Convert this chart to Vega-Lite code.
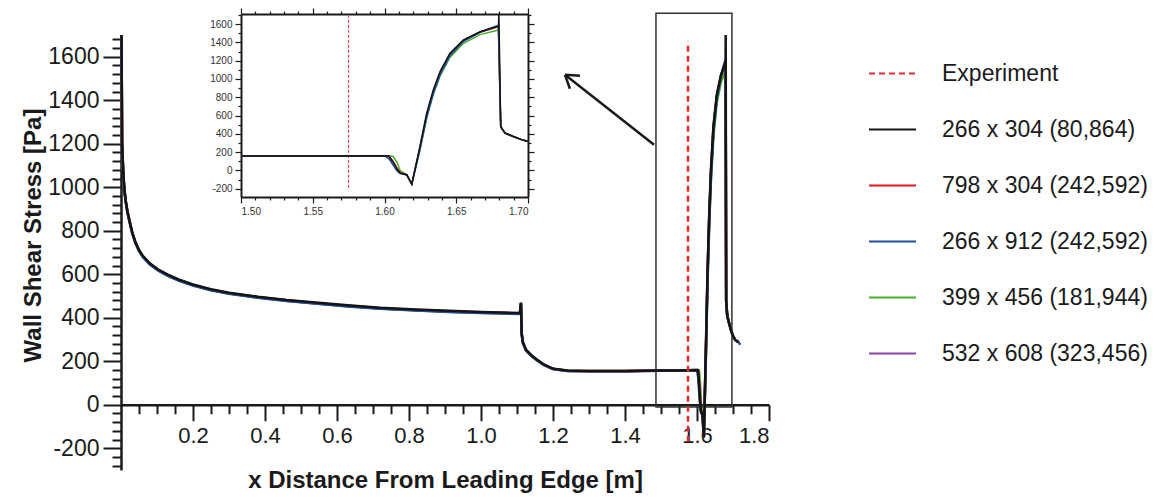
{
  "$schema": "https://vega.github.io/schema/vega-lite/v6.json",
  "autosize": "none",
  "padding": {"left": 121, "top": 35, "right": 387, "bottom": 27},
  "width": 648,
  "height": 435,
  "background": "white",
  "config": {
    "view": {"stroke": null},
    "font": "Liberation Sans",
    "axis": {"grid": false, "labelFont": "Liberation Sans", "titleFont": "Liberation Sans", "labelColor": "#1a1a1a", "tickColor": "#1a1a1a", "domainColor": "#1a1a1a", "titleColor": "#1a1a1a"}
  },
  "datasets": {
    "one": [{"id": 1}],
    "ws": [
      {"x":0.0015,"k":1700,"r":1700,"b":1700,"g":1700,"p":1700},
      {"x":0.003,"k":1210,"r":1205,"b":1198,"g":1203,"p":1200},
      {"x":0.006,"k":1080,"r":1076,"b":1070,"g":1074,"p":1072},
      {"x":0.009,"k":1000,"r":997,"b":992,"g":995,"p":993},
      {"x":0.013,"k":940,"r":937,"b":932,"g":935,"p":934},
      {"x":0.018,"k":890,"r":887,"b":882,"g":885,"p":884},
      {"x":0.024,"k":845,"r":842,"b":838,"g":840,"p":839},
      {"x":0.031,"k":795,"r":792,"b":789,"g":791,"p":790},
      {"x":0.04,"k":748,"r":746,"b":743,"g":745,"p":744},
      {"x":0.05,"k":712,"r":710,"b":707,"g":709,"p":708},
      {"x":0.06,"k":686,"r":684,"b":681,"g":683,"p":682},
      {"x":0.08,"k":650,"r":648,"b":645,"g":647,"p":646},
      {"x":0.105,"k":620,"r":618,"b":615,"g":617,"p":616},
      {"x":0.13,"k":598,"r":596,"b":593,"g":595,"p":594},
      {"x":0.16,"k":576,"r":574,"b":571,"g":573,"p":572},
      {"x":0.2,"k":553,"r":551,"b":548,"g":550,"p":549},
      {"x":0.25,"k":531,"r":529,"b":526,"g":528,"p":527},
      {"x":0.3,"k":515,"r":513,"b":510,"g":512,"p":511},
      {"x":0.38,"k":497,"r":495,"b":492,"g":494,"p":493},
      {"x":0.46,"k":482,"r":480,"b":477,"g":479,"p":478},
      {"x":0.54,"k":470,"r":468,"b":465,"g":467,"p":466},
      {"x":0.63,"k":457,"r":455,"b":452,"g":454,"p":453},
      {"x":0.72,"k":446,"r":444,"b":441,"g":443,"p":442},
      {"x":0.82,"k":438,"r":436,"b":433,"g":435,"p":434},
      {"x":0.91,"k":432,"r":430,"b":427,"g":429,"p":428},
      {"x":1.0,"k":427,"r":425,"b":422,"g":424,"p":423},
      {"x":1.108,"k":422,"r":420,"b":417,"g":419,"p":418},
      {"x":1.111,"k":470,"r":468,"b":465,"g":467,"p":466},
      {"x":1.113,"k":330,"r":328,"b":325,"g":327,"p":326},
      {"x":1.116,"k":290,"r":288,"b":285,"g":287,"p":286},
      {"x":1.125,"k":253,"r":251,"b":249,"g":250,"p":250},
      {"x":1.14,"k":228,"r":226,"b":224,"g":225,"p":225},
      {"x":1.155,"k":208,"r":207,"b":205,"g":206,"p":205},
      {"x":1.175,"k":185,"r":184,"b":182,"g":183,"p":183},
      {"x":1.2,"k":166,"r":165,"b":164,"g":165,"p":164},
      {"x":1.24,"k":157,"r":156,"b":155,"g":156,"p":155},
      {"x":1.3,"k":155,"r":155,"b":154,"g":155,"p":154},
      {"x":1.4,"k":155,"r":155,"b":154,"g":155,"p":154},
      {"x":1.5,"k":157,"r":157,"b":156,"g":157,"p":156},
      {"x":1.55,"k":158,"r":158,"b":157,"g":158,"p":157},
      {"x":1.6,"k":160,"r":160,"b":159,"g":160,"p":159},
      {"x":1.603,"k":158,"r":159,"b":130,"g":160,"p":158},
      {"x":1.606,"k":90,"r":100,"b":60,"g":152,"p":95},
      {"x":1.609,"k":10,"r":20,"b":-10,"g":80,"p":15},
      {"x":1.611,"k":-29,"r":-25,"b":-35,"g":-5,"p":-27},
      {"x":1.6155,"k":-47,"r":-46,"b":-50,"g":-45,"p":-47},
      {"x":1.619,"k":-150,"r":-150,"b":-150,"g":-150,"p":-150},
      {"x":1.6247,"k":262,"r":250,"b":230,"g":220,"p":245},
      {"x":1.6294,"k":626,"r":610,"b":580,"g":570,"p":600},
      {"x":1.634,"k":880,"r":865,"b":840,"g":830,"p":860},
      {"x":1.6387,"k":1080,"r":1065,"b":1045,"g":1030,"p":1060},
      {"x":1.6456,"k":1281,"r":1270,"b":1255,"g":1235,"p":1265},
      {"x":1.655,"k":1426,"r":1420,"b":1410,"g":1390,"p":1415},
      {"x":1.6666,"k":1516,"r":1513,"b":1510,"g":1485,"p":1510},
      {"x":1.678,"k":1571,"r":1568,"b":1580,"g":1530,"p":1565},
      {"x":1.6794,"k":1575,"r":1572,"b":1585,"g":1535,"p":1570},
      {"x":1.6797,"k":1700,"r":null,"b":null,"g":null,"p":null},
      {"x":1.681,"k":480,"r":480,"b":480,"g":470,"p":480},
      {"x":1.684,"k":408,"r":408,"b":410,"g":405,"p":408},
      {"x":1.6898,"k":371,"r":371,"b":372,"g":369,"p":371},
      {"x":1.695,"k":340,"r":340,"b":341,"g":339,"p":340},
      {"x":1.7,"k":316,"r":316,"b":317,"g":315,"p":316},
      {"x":1.706,"k":298,"r":298,"b":299,"g":297,"p":298},
      {"x":1.712,"k":291,"r":291,"b":292,"g":290,"p":291},
      {"x":1.715,"k":289,"r":289,"b":289,"g":289,"p":289},
      {"x":1.72,"k":null,"r":null,"b":276,"g":null,"p":null}
    ]
  },
  "resolve": {"scale": {"x": "independent", "y": "independent"}, "axis": {"x": "independent", "y": "independent"}},
  "layer": [
    {
      "data": {"name": "one"},
      "mark": {"type": "rect", "fill": "transparent", "stroke": "#333333", "strokeWidth": 1.5},
      "encoding": {
        "x": {"datum": 1.486, "type": "quantitative", "scale": {"domain": [0, 1.8]}, "axis": null},
        "x2": {"datum": 1.697},
        "y": {"datum": -10, "type": "quantitative", "scale": {"domain": [-300, 1700]}, "axis": null},
        "y2": {"datum": 1800}
      }
    },
    {
      "data": {"name": "one"},
      "layer": [
        {
          "mark": {"type": "rule", "color": "#1a1a1a", "strokeWidth": 2.5},
          "encoding": {
            "x": {"datum": 1.4806, "type": "quantitative", "scale": {"domain": [0, 1.8]}, "axis": null},
            "x2": {"datum": 1.2333},
            "y": {"datum": 1195, "type": "quantitative", "scale": {"domain": [-300, 1700]}, "axis": null},
            "y2": {"datum": 1517}
          }
        },
        {
          "mark": {"type": "rule", "color": "#1a1a1a", "strokeWidth": 2.5},
          "encoding": {
            "x": {"datum": 1.2333, "type": "quantitative", "scale": {"domain": [0, 1.8]}, "axis": null},
            "x2": {"datum": 1.275},
            "y": {"datum": 1517, "type": "quantitative", "scale": {"domain": [-300, 1700]}, "axis": null},
            "y2": {"datum": 1513}
          }
        },
        {
          "mark": {"type": "rule", "color": "#1a1a1a", "strokeWidth": 2.5},
          "encoding": {
            "x": {"datum": 1.2333, "type": "quantitative", "scale": {"domain": [0, 1.8]}, "axis": null},
            "x2": {"datum": 1.247},
            "y": {"datum": 1517, "type": "quantitative", "scale": {"domain": [-300, 1700]}, "axis": null},
            "y2": {"datum": 1453}
          }
        }
      ]
    },
    {
      "data": {"name": "ws"},
      "transform": [
        {"fold": ["p", "g", "r", "b", "k"], "as": ["s", "y"]},
        {"filter": {"field": "y", "valid": true}}
      ],
      "mark": {"type": "line", "strokeWidth": 2.5, "invalid": "filter"},
      "encoding": {
        "x": {"field": "x", "type": "quantitative", "scale": {"domain": [0, 1.8]},
              "axis": {"orient": "bottom", "offset": -65.25, "values": [0.2, 0.4, 0.6, 0.8, 1.0, 1.2, 1.4, 1.6, 1.8], "format": ".1f",
                       "tickSize": 16, "tickWidth": 2, "domainWidth": 2.5, "labelFontSize": 22, "labelPadding": 5,
                       "title": "x Distance From Leading Edge [m]", "titleFontSize": 24, "titleFontWeight": "bold", "titleY": 76, "titleBaseline": "middle"}},
        "y": {"field": "y", "type": "quantitative", "scale": {"domain": [-300, 1700]},
              "axis": {"orient": "left", "values": [-200, 0, 200, 400, 600, 800, 1000, 1200, 1400, 1600], "labelExpr": "'' + datum.value",
                       "tickSize": 18, "tickWidth": 2, "domainWidth": 2.5, "labelFontSize": 23, "labelPadding": 4,
                       "title": "Wall Shear Stress [Pa]", "titleFontSize": 24, "titleFontWeight": "bold", "titleX": -88, "titleY": 200, "titleBaseline": "middle"}},
        "color": {"field": "s", "type": "nominal",
                  "scale": {"domain": ["e", "k", "r", "b", "g", "p"], "range": ["#e32b2b", "#141414", "#e41a1c", "#1f4e9e", "#44b02a", "#8e44ad"]},
                  "legend": {"orient": "none", "legendX": 747, "legendY": 14, "title": null, "symbolType": "stroke", "symbolSize": 2209,
                             "symbolStrokeWidth": 2, "labelFontSize": 23, "labelFont": "Liberation Sans", "labelColor": "#1a1a1a",
                             "labelOffset": 25, "rowPadding": 19, "labelLimit": 400,
                             "labelExpr": "datum.label == 'e' ? 'Experiment' : datum.label == 'k' ? '266 x 304 (80,864)' : datum.label == 'r' ? '798 x 304 (242,592)' : datum.label == 'b' ? '266 x 912 (242,592)' : datum.label == 'g' ? '399 x 456 (181,944)' : '532 x 608 (323,456)'",
                             "encode": {"symbols": {"update": {"strokeDash": {"signal": "datum.value == 'e' ? [6,4] : [1,0]"}}}}}}
      }
    },
    {
      "data": {"name": "one"},
      "mark": {"type": "rule", "strokeWidth": 2.5, "strokeDash": [6, 4]},
      "encoding": {
        "x": {"datum": 1.575, "type": "quantitative", "scale": {"domain": [0, 1.8]},
              "axis": {"orient": "bottom", "offset": -65.25, "values": [0.05,0.1,0.15,0.25,0.3,0.35,0.45,0.5,0.55,0.65,0.7,0.75,0.85,0.9,0.95,1.05,1.1,1.15,1.25,1.3,1.35,1.45,1.5,1.55,1.65,1.7,1.75],
                       "tickSize": 9, "tickWidth": 2, "labels": false, "domain": false, "title": null}},
        "y": {"datum": -170, "type": "quantitative", "scale": {"domain": [-300, 1700]},
              "axis": {"orient": "left", "values": [-280,-240,-160,-120,-80,-40,40,80,120,160,240,280,320,360,440,480,520,560,640,680,720,760,840,880,920,960,1040,1080,1120,1160,1240,1280,1320,1360,1440,1480,1520,1560,1640,1680],
                       "tickSize": 9, "tickWidth": 2, "labels": false, "domain": false, "title": null}},
        "y2": {"datum": 1670},
        "color": {"datum": "e"}
      }
    },
    {
      "data": {"name": "one"},
      "mark": {"type": "rule", "strokeWidth": 1, "strokeDash": [3, 2]},
      "encoding": {
        "x": {"datum": 1.575, "type": "quantitative", "scale": {"domain": [1.5, 1.7], "range": [120, 407]},
              "axis": {"orient": "bottom", "offset": -273, "values": [1.51,1.52,1.53,1.54,1.56,1.57,1.58,1.59,1.61,1.62,1.63,1.64,1.66,1.67,1.68,1.69],
                       "tickSize": 3, "tickWidth": 1.2, "labels": false, "domain": false, "title": null}},
        "y": {"datum": -190, "type": "quantitative", "scale": {"domain": [-290, 1710], "range": [162, -21]},
              "axis": {"orient": "left", "offset": -120, "values": [-100, 100, 300, 500, 700, 900, 1100, 1300, 1500, 1700],
                       "tickSize": 3, "tickWidth": 1.2, "labels": false, "domain": false, "title": null}},
        "y2": {"datum": 1685},
        "color": {"datum": "e"}
      }
    },
    {
      "data": {"name": "ws"},
      "transform": [
        {"fold": ["p", "g", "r", "b", "k"], "as": ["s", "y"]},
        {"filter": {"field": "y", "valid": true}},
        {"filter": {"field": "x", "range": [1.5, 1.7]}}
      ],
      "mark": {"type": "line", "strokeWidth": 1.5, "invalid": "filter"},
      "encoding": {
        "x": {"field": "x", "type": "quantitative", "scale": {"domain": [1.5, 1.7], "range": [120, 407]},
              "axis": {"orient": "bottom", "offset": -273, "values": [1.5, 1.55, 1.6, 1.65, 1.7], "format": ".2f",
                       "tickSize": 6, "tickWidth": 1.2, "domainWidth": 2, "labelFontSize": 10, "labelPadding": 3, "labelColor": "#333333", "title": null}},
        "y": {"field": "y", "type": "quantitative", "scale": {"domain": [-290, 1710], "range": [162, -21]},
              "axis": {"orient": "left", "offset": -120, "values": [-200, 0, 200, 400, 600, 800, 1000, 1200, 1400, 1600], "labelExpr": "'' + datum.value",
                       "tickSize": 6, "tickWidth": 1.2, "domainWidth": 2, "labelFontSize": 10, "labelPadding": 3, "labelColor": "#333333", "title": null}},
        "color": {"field": "s", "type": "nominal"}
      }
    },
    {
      "data": {"name": "one"},
      "mark": {"type": "point", "opacity": 0},
      "encoding": {
        "x": {"datum": 1.6, "type": "quantitative", "scale": {"domain": [1.5, 1.7], "range": [120, 407]},
              "axis": {"orient": "top", "offset": 21, "values": [1.5, 1.55, 1.6, 1.65, 1.7], "tickSize": 6, "tickWidth": 1.2, "domainWidth": 2, "labels": false, "title": null}},
        "y": {"datum": 0, "type": "quantitative", "scale": {"domain": [-290, 1710], "range": [162, -21]},
              "axis": {"orient": "right", "offset": -241, "values": [-200, 0, 200, 400, 600, 800, 1000, 1200, 1400, 1600], "tickSize": 6, "tickWidth": 1.2, "domainWidth": 2, "labels": false, "title": null}}
      }
    },
    {
      "data": {"name": "one"},
      "mark": {"type": "point", "opacity": 0},
      "encoding": {
        "x": {"datum": 1.6, "type": "quantitative", "scale": {"domain": [1.5, 1.7], "range": [120, 407]},
              "axis": {"orient": "top", "offset": 21, "values": [1.51,1.52,1.53,1.54,1.56,1.57,1.58,1.59,1.61,1.62,1.63,1.64,1.66,1.67,1.68,1.69], "tickSize": 3, "tickWidth": 1.2, "domain": false, "labels": false, "title": null}},
        "y": {"datum": 0, "type": "quantitative", "scale": {"domain": [-290, 1710], "range": [162, -21]},
              "axis": {"orient": "right", "offset": -241, "values": [-100, 100, 300, 500, 700, 900, 1100, 1300, 1500, 1700], "tickSize": 3, "tickWidth": 1.2, "domain": false, "labels": false, "title": null}}
      }
    }
  ]
}
